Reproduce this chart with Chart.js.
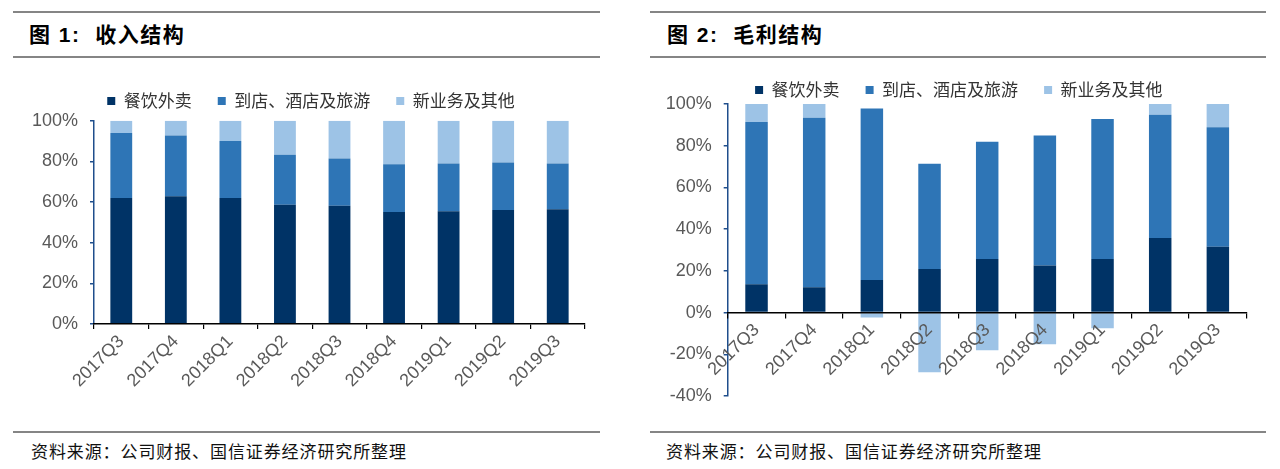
<!DOCTYPE html>
<html>
<head>
<meta charset="utf-8">
<script src="https://cdn.jsdelivr.net/npm/chart.js@4.4.1/dist/chart.umd.min.js"></script>
<style>
  html, body { margin: 0; padding: 0; background: #fff; }
  body { width: 1280px; height: 469px; position: relative; overflow: hidden; }
  .rule { position: absolute; height: 1.5px; background: #858585; }
  .title { position: absolute; font: bold 21px "Liberation Sans", "Noto Sans CJK SC", sans-serif; color: #000; letter-spacing: 1.5px; line-height: 24px; }
  .src { position: absolute; font: 17px "Noto Sans CJK SC", sans-serif; color: #111; letter-spacing: 0.9px; line-height: 20px; }
  .box { position: absolute; }
</style>
</head>
<body>
<div class="rule" style="left:13px;width:587px;top:11px"></div>
<div class="title" style="left:29px;top:23px">图 1:&nbsp;&nbsp;收入结构</div>
<div class="rule" style="left:13px;width:587px;top:56px"></div>
<div class="box" style="left:13px;top:60px;width:587px;height:370px"><canvas id="rev"></canvas></div>
<div class="rule" style="left:13px;width:587px;top:431px"></div>
<div class="src" style="left:31px;top:441px">资料来源：公司财报、国信证券经济研究所整理</div>

<div class="rule" style="left:650px;width:616px;top:11px"></div>
<div class="title" style="left:667px;top:23px">图 2:&nbsp;&nbsp;毛利结构</div>
<div class="rule" style="left:650px;width:616px;top:56px"></div>
<div class="box" style="left:650px;top:60px;width:616px;height:370px"><canvas id="gp"></canvas></div>
<div class="rule" style="left:650px;width:616px;top:431px"></div>
<div class="src" style="left:666px;top:441px">资料来源：公司财报、国信证券经济研究所整理</div>

<script>
const quarters = ['2017Q3', '2017Q4', '2018Q1', '2018Q2', '2018Q3', '2018Q4', '2019Q1', '2019Q2', '2019Q3'];
const seriesNames = ['餐饮外卖', '到店、酒店及旅游', '新业务及其他'];

// 收入结构 (%)
const revFood    = [62.0, 62.8, 62.0, 58.7, 58.2, 55.1, 55.5, 56.1, 56.4];
const revInStore = [31.9, 29.9, 28.0, 24.5, 23.2, 23.5, 23.5, 23.3, 22.6];
const revNew     = [6.1, 7.3, 10.0, 16.8, 18.6, 21.4, 21.0, 20.6, 21.0];

// 毛利结构 (%)
const gpFood    = [13.6, 12.2, 15.6, 20.9, 25.7, 22.6, 25.7, 35.8, 31.6];
const gpInStore = [77.8, 81.2, 82.2, 50.5, 56.2, 62.3, 67.1, 59.1, 57.2];
const gpNew     = [8.6, 6.6, -2.4, -28.6, -18.1, -15.2, -7.5, 5.1, 11.2];

const colors = ['#003366', '#2e75b6', '#9dc3e6'];
const axisBlue = '#1f4e8c';
const tickGrey = '#595959';

Chart.defaults.font.family = '"Liberation Sans", "Noto Sans CJK SC", sans-serif';
Chart.defaults.animation = false;

// legend: wide gaps between items, but fixed box height and a small sideways nudge
const legendFit = {
  id: 'legendFit',
  beforeLayout(chart, args, opts) {
    const lg = chart.legend;
    if (!lg || lg.$fixed) return;
    const fit = lg.fit;
    lg.fit = function () { fit.call(this); this.height = opts.height; };
    lg.$fixed = true;
  },
  afterLayout(chart, args, opts) {
    const lg = chart.legend;
    if (!lg) return;
    lg.left += opts.shift;
    lg.right += opts.shift;
  }
};

function makeChart(id, values, cfg) {
  const datasets = values.map((data, i) => ({
    label: seriesNames[i],
    data,
    backgroundColor: colors[i],
    borderWidth: 0,
    barPercentage: cfg.barPct,
    categoryPercentage: 1,
  }));

  return new Chart(document.getElementById(id), {
    type: 'bar',
    data: { labels: quarters, datasets },
    plugins: [legendFit],
    options: {
      responsive: true,
      maintainAspectRatio: false,
      layout: { padding: { top: cfg.top, right: cfg.right, bottom: cfg.bottom, left: 0 } },
      plugins: {
        legendFit: { height: cfg.legendH, shift: cfg.shift },
        tooltip: { enabled: false },
        legend: {
          position: 'top',
          labels: {
            boxWidth: 8, boxHeight: 8, padding: 26, color: '#333',
            font: { family: '"Noto Sans CJK SC", sans-serif', size: 17 },
          },
        },
      },
      scales: {
        x: {
          stacked: true,
          position: cfg.xPos,
          grid: { display: true, offset: true, drawOnChartArea: false, drawTicks: true, tickLength: 5, color: '#000', lineWidth: 1.2, z: 1 },
          border: { display: true, color: '#000', width: 1.5, z: 1 },
          ticks: { color: tickGrey, font: { size: 18 }, minRotation: 45, maxRotation: 45, autoSkip: false, padding: 2, z: 1 },
          afterFit: cfg.xHeight ? (s) => { s.height = cfg.xHeight; } : undefined,
        },
        y: {
          stacked: true,
          min: cfg.min, max: 100,
          grid: { display: true, drawOnChartArea: false, drawTicks: true, tickLength: 4, color: axisBlue, lineWidth: 1.5 },
          border: { display: true, color: axisBlue, width: 1.5 },
          ticks: { stepSize: 20, color: tickGrey, font: { size: 18 }, padding: 12, callback: (v) => v + '%' },
          afterFit: (s) => { s.width = cfg.yWidth; },
        },
      },
    },
  });
}

makeChart('rev', [revFood, revInStore, revNew], {
  min: 0, barPct: 0.4, top: 6.5, legendH: 54.2, right: 15, bottom: 0, shift: 12,
  xPos: 'bottom', xHeight: 106, yWidth: 81,
});

makeChart('gp', [gpFood, gpInStore, gpNew], {
  min: -40, barPct: 0.39, top: -4.5, legendH: 48.5, right: 19.3, bottom: 34, shift: 10.5,
  xPos: { y: 0 }, xHeight: null, yWidth: 77.7,
});
</script>
</body>
</html>
